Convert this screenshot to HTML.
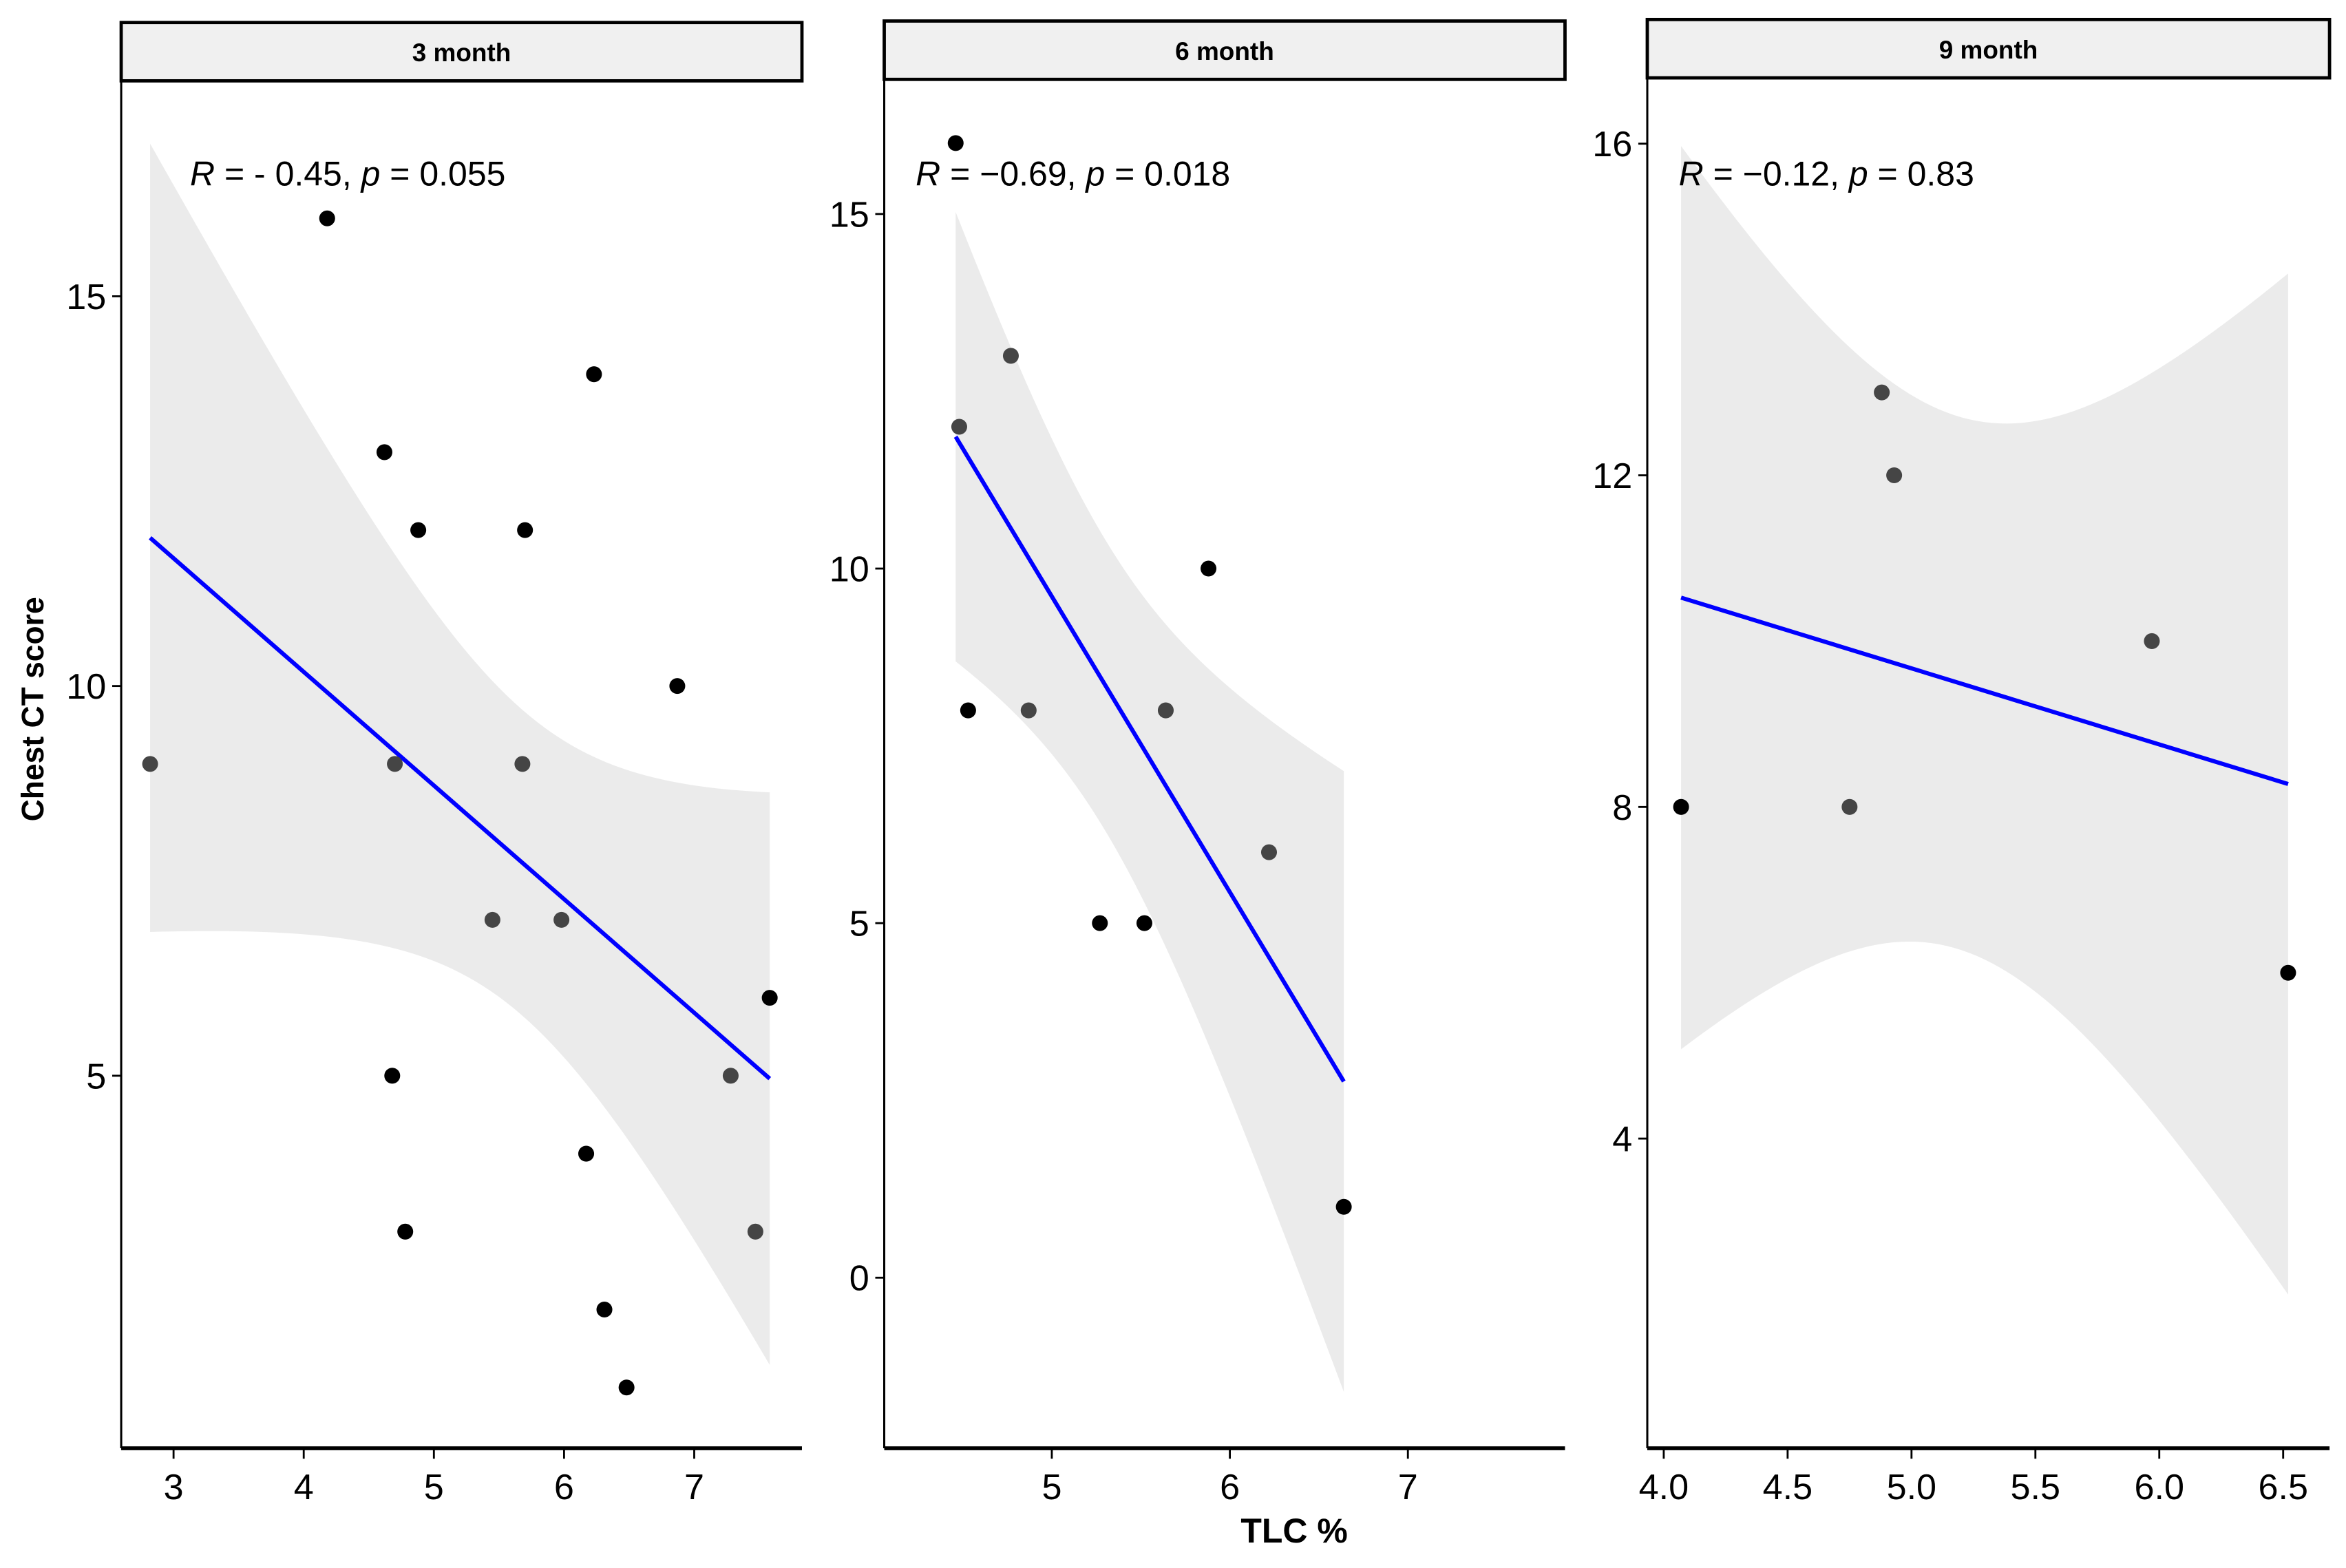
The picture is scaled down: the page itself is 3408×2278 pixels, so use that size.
<!DOCTYPE html>
<html><head><meta charset="utf-8"><style>
html,body{margin:0;padding:0;background:#fff;}
svg{display:block;font-family:"Liberation Sans",Arial,sans-serif;}
</style></head><body>
<svg id="chart" width="3408" height="2278" viewBox="0 0 1568 1048" xmlns="http://www.w3.org/2000/svg">
<rect width="1568" height="1048" fill="#fff"/>
<text transform="translate(29,474) rotate(-90)" text-anchor="middle" font-size="21" font-weight="bold" textLength="150" lengthAdjust="spacingAndGlyphs">Chest CT score</text>
<text x="865" y="1031" text-anchor="middle" font-size="23" font-weight="bold">TLC %</text>
</svg>
<script>
// Panel 1 : 3 month
const p1X = [2.82,4.18,4.62,4.70,4.88,4.68,4.78,5.45,5.68,5.70,5.98,6.17,6.23,6.31,6.48,6.87,7.28,7.47,7.58];
const p1Y = [9,16,13,9,12,5,3,7,9,12,7,4,14,2,1,10,5,3,6];
const p1Gray = [1,0,0,1,0,0,0,1,1,0,1,0,0,0,0,0,1,1,0];
const p1XTicks = [3,4,5,6,7];
const p1YTicks = [5,10,15];
// Panel 2 : 6 month
const p2X = [4.46,4.48,4.77,4.53,4.87,5.27,5.52,5.64,5.88,6.22,6.64];
const p2Y = [16,12,13,8,8,5,5,8,10,6,1];
const p2Gray = [0,1,1,0,1,0,0,1,0,1,0];
const p2XTicks = [5,6,7];
const p2YTicks = [0,5,10,15];
// Panel 3 : 9 month
const p3X = [4.07,4.75,4.88,4.93,5.97,6.52];
const p3Y = [8,8,13,12,10,6];
const p3Gray = [0,1,1,1,1,0];
const p3XTicks = [4.0,4.5,5.0,5.5,6.0,6.5];
const p3YTicks = [4,8,12,16];
const panelTitles = ["3 month","6 month","9 month"];
const statLabels = [["- 0.45","0.055"],["\u22120.69","0.018"],["\u22120.12","0.83"]];
const tCrit = [2.110,2.262,2.776];

const NS="http://www.w3.org/2000/svg";
const svg=document.getElementById('chart');
function mk(tag,attrs,parent){const e=document.createElementNS(NS,tag);for(const k in attrs)e.setAttribute(k,attrs[k]);(parent||svg).appendChild(e);return e;}

const layouts=[
 {x0:81,x1:536,sy0:15,sy1:54,xa:[3,116,7,464],ya:[15,198,5,719],dec:0,annX:127},
 {x0:591,x1:1046,sy0:14,sy1:53,xa:[5,703,7,941],ya:[15,143,0,854],dec:0,annX:612},
 {x0:1101,x1:1557,sy0:13,sy1:52,xa:[4,1112,6.5,1526],ya:[16,96,4,761],dec:1,annX:1122}
];
const data=[[p1X,p1Y,p1Gray,p1XTicks,p1YTicks],[p2X,p2Y,p2Gray,p2XTicks,p2YTicks],[p3X,p3Y,p3Gray,p3XTicks,p3YTicks]];
const bottom=968;

layouts.forEach((L,i)=>{
 const [xs,ys,gray,xt,yt]=data[i];
 const sx=v=>L.xa[1]+(v-L.xa[0])*(L.xa[3]-L.xa[1])/(L.xa[2]-L.xa[0]);
 const sy=v=>L.ya[1]+(v-L.ya[0])*(L.ya[3]-L.ya[1])/(L.ya[2]-L.ya[0]);
 const g=mk('g',{});
 
 
 const n=xs.length;const mx=xs.reduce((a,b)=>a+b)/n, my=ys.reduce((a,b)=>a+b)/n;
 let sxx=0,sxy=0;for(let k=0;k<n;k++){sxx+=(xs[k]-mx)**2;sxy+=(xs[k]-mx)*(ys[k]-my);}
 const b=sxy/sxx,a=my-b*mx;let sse=0;for(let k=0;k<n;k++)sse+=(ys[k]-a-b*xs[k])**2;
 const s=Math.sqrt(sse/(n-2));
 const xmin=Math.min(...xs),xmax=Math.max(...xs);
 const up=[],lo=[];
 for(let k=0;k<=80;k++){const x=xmin+(xmax-xmin)*k/80;const f=a+b*x;const se=tCrit[i]*s*Math.sqrt(1/n+(x-mx)**2/sxx);
  up.push(sx(x).toFixed(2)+','+sy(f+se).toFixed(2));lo.unshift(sx(x).toFixed(2)+','+sy(f-se).toFixed(2));}
 const cp=mk('clipPath',{id:'clip'+i},g);mk('rect',{x:L.x0,y:L.sy1,width:L.x1-L.x0,height:bottom-L.sy1},cp);
 const band=mk('polygon',{points:up.concat(lo).join(' '),fill:'#ebebeb','clip-path':'url(#clip'+i+')'},g);
 
 
 const ln=mk('line',{x1:sx(xmin),y1:sy(a+b*xmin),x2:sx(xmax),y2:sy(a+b*xmax),stroke:'#0000ff','stroke-width':2.8},g);
 
 
 for(let k=0;k<n;k++){const c=mk('circle',{cx:sx(xs[k]),cy:sy(ys[k]),r:5.3,fill:gray[k]?'#454545':'#000'},g);
  
  }
 mk('line',{x1:L.x0,y1:L.sy1,x2:L.x0,y2:bottom,stroke:'#000','stroke-width':1.4},g);
 mk('line',{x1:L.x0,y1:bottom,x2:L.x1,y2:bottom,stroke:'#000','stroke-width':2.6},g);
 xt.forEach(v=>{const X=sx(v);mk('line',{x1:X,y1:bottom,x2:X,y2:bottom+7,stroke:'#000','stroke-width':1.3},g);
  const t=mk('text',{x:X,y:1002,'text-anchor':'middle','font-size':24},g);t.textContent=v.toFixed(L.dec);
  
  });
 yt.forEach(v=>{const Y=sy(v);mk('line',{x1:L.x0-6,y1:Y,x2:L.x0,y2:Y,stroke:'#000','stroke-width':1.3},g);
  const t=mk('text',{x:L.x0-10,y:Y+8.5,'text-anchor':'end','font-size':24},g);t.textContent=v;
  
  });
 const sr=mk('rect',{x:L.x0,y:L.sy0,width:L.x1-L.x0,height:L.sy1-L.sy0,fill:'#f0f0f0',stroke:'#000','stroke-width':2.2},g);
 
 
 const st=mk('text',{x:(L.x0+L.x1)/2,y:(L.sy0+L.sy1)/2+6.5,'text-anchor':'middle','font-size':17,'font-weight':'bold'},g);
 st.textContent=panelTitles[i];
 
 
 const an=mk('text',{x:L.annX,y:124,'font-size':23},g);
 an.innerHTML='<tspan font-style="italic">R</tspan> = '+statLabels[i][0]+', <tspan font-style="italic">p</tspan> = '+statLabels[i][1];
 
 
});
</script>
</body></html>
